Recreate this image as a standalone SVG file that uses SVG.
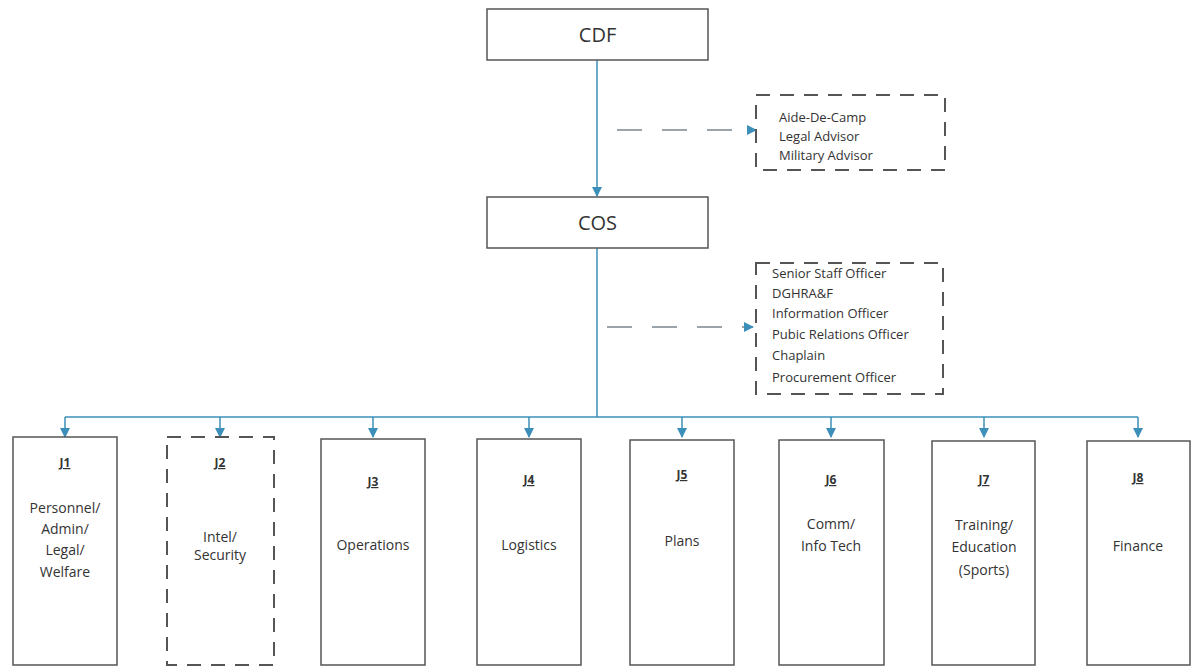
<svg xmlns="http://www.w3.org/2000/svg" width="1196" height="668" viewBox="0 0 1196 668">
<defs>
<marker id="arr" markerWidth="10" markerHeight="10" refX="9" refY="5" orient="auto" markerUnits="userSpaceOnUse">
<path d="M0,0 L10,5 L0,10 Z" fill="#3b8fb8"/>
</marker>
</defs>
<style>
.box{fill:#fff;stroke:#555;stroke-width:1.5}
.dbox{fill:#fff;stroke:#555;stroke-width:2;stroke-dasharray:14,10}
.conn{fill:none;stroke:#3b8fb8;stroke-width:1.5}
.dconn{fill:none;stroke:#9aa4aa;stroke-width:2;stroke-dasharray:25,20}
text{font-family:"Open Sans","Liberation Sans",sans-serif;fill:#333}
.big{font-size:20px;text-anchor:middle}
.lst{font-size:13px}
.hd{font-size:12px;font-weight:bold;text-anchor:middle;text-decoration:underline}
.bd{font-size:14px;text-anchor:middle}
</style>
<rect width="1196" height="668" fill="#fff"/>
<g id="connectors">
<line class="conn" x1="597" y1="60" x2="597" y2="196" marker-end="url(#arr)"/>
<line class="conn" x1="597" y1="248" x2="597" y2="417"/>
<line class="conn" x1="65" y1="417" x2="1138" y2="417"/>
<line class="conn" x1="65" y1="417" x2="65" y2="437" marker-end="url(#arr)"/>
<line class="conn" x1="220" y1="417" x2="220" y2="437" marker-end="url(#arr)"/>
<line class="conn" x1="373" y1="417" x2="373" y2="437" marker-end="url(#arr)"/>
<line class="conn" x1="529" y1="417" x2="529" y2="437" marker-end="url(#arr)"/>
<line class="conn" x1="682" y1="417" x2="682" y2="437" marker-end="url(#arr)"/>
<line class="conn" x1="831" y1="417" x2="831" y2="437" marker-end="url(#arr)"/>
<line class="conn" x1="984" y1="417" x2="984" y2="437" marker-end="url(#arr)"/>
<line class="conn" x1="1138" y1="417" x2="1138" y2="437" marker-end="url(#arr)"/>
<line class="dconn" x1="617" y1="130" x2="756" y2="130" marker-end="url(#arr)"/>
<line class="dconn" x1="607" y1="327" x2="753" y2="327" marker-end="url(#arr)"/>
</g>
<g id="cdf">
<rect class="box" x="487" y="9" width="221" height="51"/>
<text class="big" x="597.5" y="42">CDF</text>
</g>
<g id="cos">
<rect class="box" x="487" y="197" width="221" height="51"/>
<text class="big" x="597.5" y="230">COS</text>
</g>
<g id="advisors">
<rect class="dbox" x="756" y="95" width="189" height="75"/>
<text class="lst" x="779" y="122">Aide-De-Camp</text>
<text class="lst" x="779" y="141">Legal Advisor</text>
<text class="lst" x="779" y="160">Military Advisor</text>
</g>
<g id="staff">
<rect class="dbox" x="756" y="263" width="187" height="131"/>
<text class="lst" x="772" y="278">Senior Staff Officer</text>
<text class="lst" x="772" y="298">DGHRA&amp;F</text>
<text class="lst" x="772" y="318">Information Officer</text>
<text class="lst" x="772" y="339">Pubic Relations Officer</text>
<text class="lst" x="772" y="360">Chaplain</text>
<text class="lst" x="772" y="382">Procurement Officer</text>
</g>
<g id="j1">
<rect class="box" x="13" y="437" width="104" height="228"/>
<text class="hd" x="65" y="467">J1</text>
<text class="bd" x="65" y="513">Personnel/</text>
<text class="bd" x="65" y="534">Admin/</text>
<text class="bd" x="65" y="555">Legal/</text>
<text class="bd" x="65" y="577">Welfare</text>
</g>
<g id="j2">
<rect class="dbox" x="167" y="437" width="107" height="228"/>
<text class="hd" x="220" y="467">J2</text>
<text class="bd" x="220" y="542">Intel/</text>
<text class="bd" x="220" y="560">Security</text>
</g>
<g id="j3">
<rect class="box" x="321" y="439" width="104" height="226"/>
<text class="hd" x="373" y="486">J3</text>
<text class="bd" x="373" y="550">Operations</text>
</g>
<g id="j4">
<rect class="box" x="477" y="439" width="104" height="226"/>
<text class="hd" x="529" y="484">J4</text>
<text class="bd" x="529" y="550">Logistics</text>
</g>
<g id="j5">
<rect class="box" x="630" y="440" width="104" height="225"/>
<text class="hd" x="682" y="479">J5</text>
<text class="bd" x="682" y="546">Plans</text>
</g>
<g id="j6">
<rect class="box" x="779" y="440" width="105" height="225"/>
<text class="hd" x="831" y="484">J6</text>
<text class="bd" x="831" y="529">Comm/</text>
<text class="bd" x="831" y="551">Info Tech</text>
</g>
<g id="j7">
<rect class="box" x="932" y="441" width="103" height="224"/>
<text class="hd" x="984" y="484">J7</text>
<text class="bd" x="984" y="530">Training/</text>
<text class="bd" x="984" y="552">Education</text>
<text class="bd" x="984" y="575">(Sports)</text>
</g>
<g id="j8">
<rect class="box" x="1087" y="441" width="103" height="224"/>
<text class="hd" x="1138" y="482">J8</text>
<text class="bd" x="1138" y="551">Finance</text>
</g>
</svg>
